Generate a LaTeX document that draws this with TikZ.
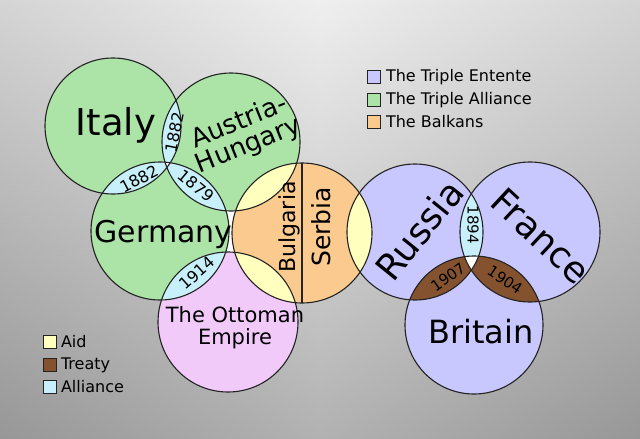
\documentclass[tikz,border=0pt]{standalone}
\usepackage{fontspec}
\setmainfont{DejaVu Sans}
\definecolor{bgtop}{RGB}{234,234,234}
\definecolor{bgbot}{RGB}{152,152,152}
\definecolor{bgside}{RGB}{150,150,150}
\definecolor{tagreen}{RGB}{172,228,168}
\definecolor{teblue}{RGB}{200,200,255}
\definecolor{baorange}{RGB}{250,202,142}
\definecolor{otpink}{RGB}{242,202,250}
\definecolor{allblue}{RGB}{200,240,250}
\definecolor{aidyellow}{RGB}{255,255,190}
\definecolor{trbrown}{RGB}{132,82,46}
\definecolor{outline}{RGB}{35,35,35}
\newcommand\myfs[2]{\fontsize{#1}{#2}\selectfont}
\begin{document}
\begin{tikzpicture}[x=1pt,y=-1pt,
  outl/.style={draw=outline, line width=1.1pt},
  lbl/.style={inner sep=0pt, text=black},
  legbox/.style={draw=outline, line width=1.2pt, minimum size=12.5pt, inner sep=0pt},
  legtxt/.style={anchor=west, inner sep=0pt, xshift=5pt, font=\myfs{16}{18}, text=black},
  cIt/.style={insert path={(it) circle[radius=68]}},
  cAH/.style={insert path={(ah) circle[radius=69]}},
  cGe/.style={insert path={(ge) circle[radius=69]}},
  cOt/.style={insert path={(ot) circle[radius=70]}},
  cBa/.style={insert path={(ba) circle[radius=70]}},
  cRu/.style={insert path={(ru) circle[radius=68]}},
  cFr/.style={insert path={(fr) circle[radius=70]}},
  cBr/.style={insert path={(br) circle[radius=69]}}]
\useasboundingbox (0,0) rectangle (640,439);
\shade[top color=bgtop, bottom color=bgbot] (0,0) rectangle (640,439);
\shade[left color=bgside, right color=bgside, middle color=white, opacity=0.25] (0,0) rectangle (640,439);
% centres
\coordinate (it) at (113,126);
\coordinate (ah) at (231,142);
\coordinate (ge) at (160,231);
\coordinate (ot) at (228,322);
\coordinate (ba) at (302,233);
\coordinate (ru) at (415,232);
\coordinate (fr) at (530,232);
\coordinate (br) at (474,325);
% white gap
\fill[white] (224,205) rectangle (240,258);
% circle fills
\fill[tagreen, cIt];
\fill[tagreen, cAH];
\fill[tagreen, cGe];
\fill[otpink, cOt];
\fill[baorange, cBa];
\fill[teblue, cRu];
\fill[teblue, cFr];
\fill[teblue, cBr];
% lenses: alliances
\begin{scope}\path[clip, cIt]; \fill[allblue, cAH]; \end{scope}
\begin{scope}\path[clip, cIt]; \fill[allblue, cGe]; \end{scope}
\begin{scope}\path[clip, cAH]; \fill[allblue, cGe]; \end{scope}
\begin{scope}\path[clip, cGe]; \fill[allblue, cOt]; \end{scope}
\begin{scope}\path[clip, cRu]; \fill[allblue, cFr]; \end{scope}
% lenses: aid
\begin{scope}\path[clip, cAH]; \fill[aidyellow, cBa]; \end{scope}
\begin{scope}\path[clip, cOt]; \fill[aidyellow, cBa]; \end{scope}
\begin{scope}\path[clip, cRu]; \fill[aidyellow, cBa]; \end{scope}
% lenses: treaty
\begin{scope}\path[clip, cRu]; \fill[trbrown, cBr]; \end{scope}
\begin{scope}\path[clip, cFr]; \fill[trbrown, cBr]; \end{scope}
% triple intersections
\begin{scope}\path[clip, cIt]; \path[clip, cAH]; \fill[white, cGe]; \end{scope}
\begin{scope}\path[clip, cRu]; \path[clip, cFr]; \fill[white, cBr]; \end{scope}
% Balkans divider
\coordinate (bdt) at (302,150);
\coordinate (bdb) at (302,310);
\begin{scope}\path[clip, cBa]; \draw[outl] (bdt) -- (bdb); \end{scope}
% outlines
\draw[outl, cIt];
\draw[outl, cAH];
\draw[outl, cGe];
\draw[outl, cOt];
\draw[outl, cBa];
\draw[outl, cRu];
\draw[outl, cFr];
\draw[outl, cBr];
% country labels
\node[lbl, anchor=base, font=\myfs{37}{40}] (tIt) at (116,135) {Italy};
\node[lbl, align=center, rotate=22, font=\myfs{26}{25}] (tAH) at (244,134) {Austria-\\Hungary};
\node[lbl, anchor=base, font=\myfs{30}{32}] (tGe) at (163.5,242) {Germany};
\node[lbl, align=center, font=\myfs{21}{22}] (tOt) at (235,328) {The Ottoman\\Empire};
\node[lbl, rotate=90, font=\myfs{22}{24}] (tBu) at (289,227) {Bulgaria};
\node[lbl, rotate=90, font=\myfs{25}{27}] (tSe) at (321,227) {Serbia};
\node[lbl, rotate=51, font=\myfs{36}{38}] (tRu) at (419,230) {Russia};
\node[lbl, rotate=-43, font=\myfs{36}{38}] (tFr) at (541,236) {France};
\node[lbl, anchor=base, font=\myfs{32}{34}] (tBr) at (481,343) {Britain};
% years
\node[lbl, rotate=79, font=\myfs{16}{18}] (y1) at (175,132) {1882};
\node[lbl, rotate=28, font=\myfs{16}{18}] (y2) at (139,179) {1882};
\node[lbl, rotate=-40, font=\myfs{16}{18}] (y3) at (196,186) {1879};
\node[lbl, rotate=42, font=\myfs{16}{18}] (y4) at (197,273) {1914};
\node[lbl, rotate=-90, font=\myfs{15}{17}] (y5) at (473,225) {1894};
\node[lbl, rotate=35, font=\myfs{15}{17}] (y6) at (448,277) {1907};
\node[lbl, rotate=-34, font=\myfs{15}{17}] (y7) at (505,280) {1904};
% legend top right
\node[legbox, fill=teblue] (k1) at (374,77) {};
\node[legtxt] (k1t) at (k1.east) {The Triple Entente};
\node[legbox, fill=tagreen] (k2) at (374,100) {};
\node[legtxt] (k2t) at (k2.east) {The Triple Alliance};
\node[legbox, fill=baorange] (k3) at (374,122) {};
\node[legtxt] (k3t) at (k3.east) {The Balkans};
% legend bottom left
\node[legbox, fill=aidyellow] (m1) at (50,342) {};
\node[legtxt, xshift=-1pt] (m1t) at (m1.east) {Aid};
\node[legbox, fill=trbrown] (m2) at (50,365) {};
\node[legtxt, xshift=-1pt] (m2t) at (m2.east) {Treaty};
\node[legbox, fill=allblue] (m3) at (50,387) {};
\node[legtxt, xshift=-1pt] (m3t) at (m3.east) {Alliance};
\end{tikzpicture}
\end{document}
